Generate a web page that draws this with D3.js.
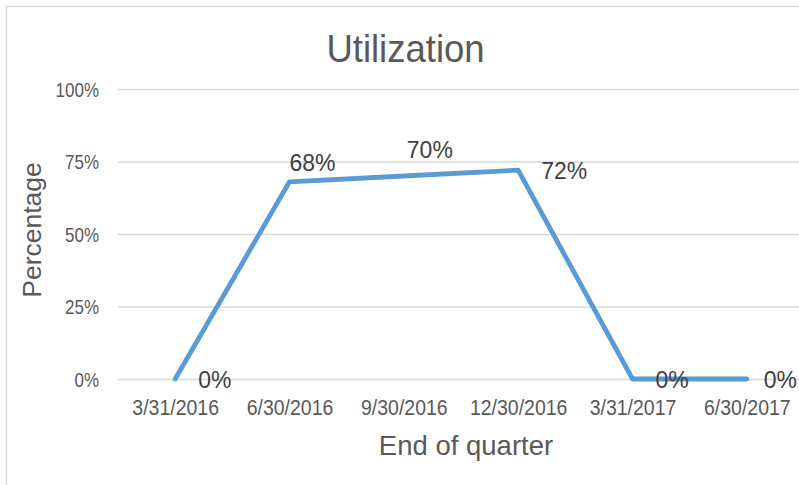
<!DOCTYPE html>
<html>
<head>
<meta charset="utf-8">
<script src="https://cdn.jsdelivr.net/npm/d3@7"></script>
<style>
  body { margin: 0; background: #fff; }
  svg { display: block; font-family: "Liberation Sans", Arial, sans-serif; }
</style>
</head>
<body>
<div id="chart"></div>
<script>
// chart data
const quarters = ["3/31/2016", "6/30/2016", "9/30/2016", "12/30/2016", "3/31/2017", "6/30/2017"];
const utilization = [0, 0.68, 0.70, 0.72, 0, 0];
const yTicks = [0, 0.25, 0.5, 0.75, 1];

const width = 799, height = 485;
const plot = {left: 118, right: 804, top: 89, bottom: 379};

// label tweaks (Excel labels were nudged by hand in the original)
const labelShift = {1: [0, -11], 2: [3, -18]};

// the original text is a bit taller than wide, stretch vertically around baseline
function stretch(sel, k) {
    sel.each(function() {
        let t = d3.select(this);
        let by = +t.attr("y") || 0;
        t.attr("transform", `translate(0, ${by}) scale(1, ${k}) translate(0, ${-by})`);
    });
}

let svg = d3.select("#chart")
    .append("svg")
    .attr("width", width)
    .attr("height", height);

// chart border (clipped on right/bottom like the screenshot)
svg.append("rect")
    .attr("x", 6.5).attr("y", 6.5)
    .attr("width", width + 20).attr("height", height + 20)
    .attr("fill", "none")
    .attr("stroke", "#d9d9d9")
    .attr("stroke-width", 1.3);

let x = d3.scalePoint()
    .domain(quarters)
    .range([plot.left, plot.right])
    .padding(0.5);

let y = d3.scaleLinear()
    .domain([0, 1])
    .range([plot.bottom, plot.top]);

// gridlines + y labels
let yAxis = svg.append("g")
    .attr("transform", `translate(${plot.left}, 0)`)
    .call(d3.axisLeft(y)
        .tickValues(yTicks)
        .tickSize(-(plot.right - plot.left))
        .tickPadding(19)
        .tickFormat(d3.format(".0%")));
yAxis.select(".domain").remove();
yAxis.selectAll("line").attr("stroke", "#d9d9d9").attr("stroke-width", 1.3);
yAxis.selectAll("text")
    .attr("fill", "#595959")
    .attr("dy", null)
    .attr("y", 7.3)
    .style("font-size", "17px")
    .call(stretch, 1.2);

// x labels
let xAxis = svg.append("g")
    .attr("transform", `translate(0, ${plot.bottom})`)
    .call(d3.axisBottom(x).tickSize(0));
xAxis.select(".domain").remove();
xAxis.selectAll("text")
    .attr("fill", "#595959")
    .attr("dy", null)
    .attr("y", 36.3)
    .style("font-size", "19.5px")
    .call(stretch, 1.1);

// line
let line = d3.line()
    .x(function(d, i) { return x(quarters[i]); })
    .y(function(d) { return y(d); });

svg.append("path")
    .datum(utilization)
    .attr("d", line)
    .attr("fill", "none")
    .attr("stroke", "#5b9bd5")
    .attr("stroke-width", 4.8)
    .attr("stroke-linejoin", "round")
    .attr("stroke-linecap", "round");

// data labels
let labels = svg.append("g")
    .selectAll("text")
    .data(utilization)
    .enter()
    .append("text")
    .attr("fill", "#404040")
    .style("font-size", "23px")
    .text(function(d) { return d3.format(".0%")(d); })
    .attr("x", function(d, i) {
        let s = labelShift[i];
        return x(quarters[i]) + (s ? s[0] : 23);
    })
    .attr("y", function(d, i) {
        let s = labelShift[i];
        return y(d) + (s ? s[1] : 9);
    });

// keep labels inside the chart area
labels.each(function() {
    let w = this.getComputedTextLength();
    let lx = +d3.select(this).attr("x");
    if (lx + w > 797) d3.select(this).attr("x", 797 - w);
});
labels.call(stretch, 1.08);

// titles
svg.append("text")
    .attr("x", 405.5).attr("y", 62.5)
    .attr("text-anchor", "middle")
    .attr("fill", "#595959")
    .style("font-size", "36.5px")
    .text("Utilization")
    .call(stretch, 1.05);

svg.append("text")
    .attr("transform", "translate(40.5, 230) rotate(-90)")
    .attr("text-anchor", "middle")
    .attr("fill", "#595959")
    .style("font-size", "26.5px")
    .text("Percentage");

svg.append("text")
    .attr("x", 466).attr("y", 455)
    .attr("text-anchor", "middle")
    .attr("fill", "#595959")
    .style("font-size", "27.5px")
    .text("End of quarter");
</script>
</body>
</html>
